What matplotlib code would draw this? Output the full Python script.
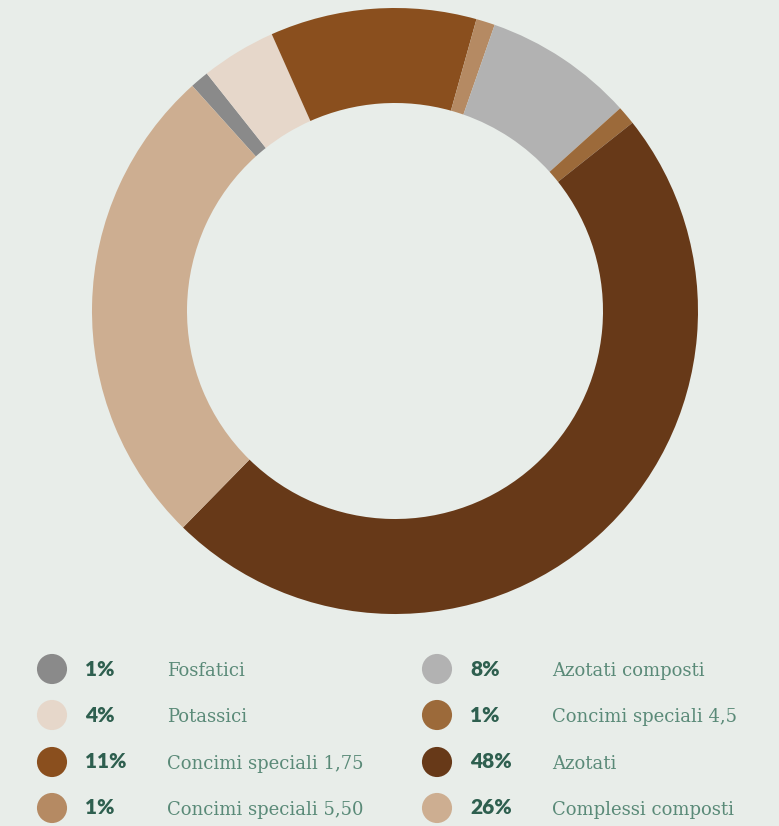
import matplotlib.pyplot as plt

# dati del grafico
labels = ['Fosfatici', 'Potassici', 'Concimi speciali 1,75', 'Concimi speciali 5,50',
          'Azotati composti', 'Concimi speciali 4,5', 'Azotati', 'Complessi composti']
values = [1, 4, 11, 1, 8, 1, 48, 26]
colors = ['#8a8a8a', '#e6d7ca', '#8a4f1e', '#b58a63',
          '#b2b2b2', '#9c6a3a', '#673918', '#cdae91']

bg = '#e8ede9'
W, H = 779, 826

fig = plt.figure(figsize=(W / 100, H / 100), dpi=100)
fig.patch.set_facecolor(bg)

# ciambella
cx, cy, r = 395, 311, 303
ax = fig.add_axes([(cx - r) / W, (H - cy - r) / H, 2 * r / W, 2 * r / H])
ax.pie(values, colors=colors, startangle=132, counterclock=False, radius=1,
       wedgeprops=dict(width=95 / 303, edgecolor='none'))
ax.set_xlim(-1, 1)
ax.set_ylim(-1, 1)
ax.set_aspect('equal')
ax.axis('off')

# legenda a due colonne
lg = fig.add_axes([0, 0, 1, 1])
lg.set_xlim(0, W)
lg.set_ylim(H, 0)
lg.axis('off')
rows_y = [669, 715, 762, 808]
cols_x = [52, 437]
for i, (lab, val, col) in enumerate(zip(labels, values, colors)):
    x0 = cols_x[i // 4]
    y0 = rows_y[i % 4]
    lg.scatter([x0], [y0], s=470, color=col, edgecolors='none')
    lg.text(x0 + 33, y0, f'{val}%', fontsize=15, fontweight='heavy', family='Lato',
            color='#2e5f4f', va='center', ha='left')
    lg.text(x0 + 115, y0 + 2, lab, fontsize=13, family='DejaVu Serif',
            color='#5a8a78', va='center', ha='left')

fig.savefig('out.png', dpi=100, facecolor=bg)
